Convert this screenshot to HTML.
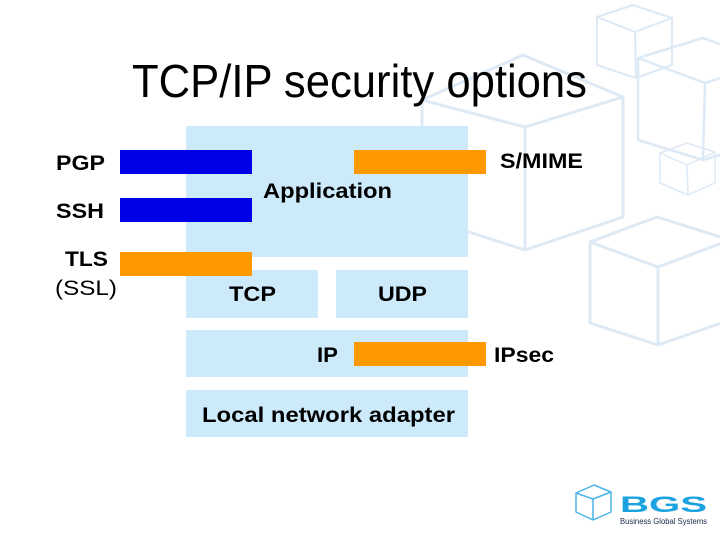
<!DOCTYPE html>
<html><head><meta charset="utf-8"><style>
html,body{margin:0;padding:0;background:#fff;}
svg{display:block;}
text{font-family:"Liberation Sans",Arial,sans-serif;}
</style></head><body>
<svg width="720" height="540" viewBox="0 0 720 540" xmlns="http://www.w3.org/2000/svg">
<rect width="720" height="540" fill="#ffffff"/>
<!-- background cubes -->
<g fill="none" stroke="#dde9f5" stroke-width="3" stroke-linejoin="round">
  <!-- big cube -->
  <path d="M422,100 L523,55 L623,97 L525,127 Z M422,100 L422,217 L525,250 L623,217 L623,97 M525,127 L525,250"/>
  <!-- bottom right cube -->
  <path d="M590,242 L657,217 L730,240 L658,267 Z M590,242 L590,323 L658,345 L730,320 M658,267 L658,345"/>
  <!-- top small cube -->
  <path d="M597,17 L633,5 L672,18 L635,32 Z M597,17 L597,65 L636,78 L672,65 L672,18 M635,32 L636,78" stroke-width="2"/>
  <!-- right middle cube -->
  <path d="M638,58 L703,38 L730,48 M638,58 L705,83 L730,75 M638,58 L638,140 L703,160 L730,152 M705,83 L703,160" stroke-width="2.5"/>
  <!-- small cube -->
  <path d="M660,153 L687,143 L715,152 L687,165 Z M660,153 L660,183 L688,195 L715,183 L715,152 M687,165 L688,195" stroke-width="1.5"/>
</g>

<!-- Title -->
<text x="132" y="97" font-size="46" fill="#000" textLength="455" lengthAdjust="spacingAndGlyphs">TCP/IP security options</text>

<!-- layer boxes -->
<g fill="#cceafa">
  <rect x="186" y="126" width="282" height="131"/>
  <rect x="186" y="270" width="132" height="48"/>
  <rect x="336" y="270" width="132" height="48"/>
  <rect x="186" y="330" width="282" height="47"/>
  <rect x="186" y="390" width="282" height="47"/>
</g>

<!-- bars -->
<rect x="120" y="150" width="132" height="24" fill="#0000e6"/>
<rect x="120" y="198" width="132" height="24" fill="#0000e6"/>
<rect x="120" y="252" width="132" height="24" fill="#ff9900"/>
<rect x="354" y="150" width="132" height="24" fill="#ff9900"/>
<rect x="354" y="342" width="132" height="24" fill="#ff9900"/>

<!-- labels -->
<g font-weight="bold" font-size="21" fill="#000">
  <text x="56" y="170" textLength="49" lengthAdjust="spacingAndGlyphs">PGP</text>
  <text x="56" y="218" textLength="48" lengthAdjust="spacingAndGlyphs">SSH</text>
  <text x="65" y="266" textLength="43" lengthAdjust="spacingAndGlyphs">TLS</text>
  <text x="263" y="198" textLength="129" lengthAdjust="spacingAndGlyphs">Application</text>
  <text x="229" y="301" textLength="47" lengthAdjust="spacingAndGlyphs">TCP</text>
  <text x="378" y="301" textLength="49" lengthAdjust="spacingAndGlyphs">UDP</text>
  <text x="317" y="362" textLength="21" lengthAdjust="spacingAndGlyphs">IP</text>
  <text x="202" y="422" textLength="253" lengthAdjust="spacingAndGlyphs">Local network adapter</text>
  <text x="494" y="362" textLength="60" lengthAdjust="spacingAndGlyphs">IPsec</text>
  <text x="500" y="168" textLength="83" lengthAdjust="spacingAndGlyphs">S/MIME</text>
</g>
<text x="55" y="295" font-size="21" fill="#000" textLength="62" lengthAdjust="spacingAndGlyphs">(SSL)</text>

<!-- BGS logo -->
<g fill="none" stroke="#4cb4e6" stroke-width="1.5" stroke-linejoin="round">
  <path d="M576,493 L594,485 L611,492 L593,499 Z M576,493 L576,512 L593,520 L611,512 L611,492 M593,499 L593,520"/>
</g>
<text x="620" y="512" font-size="22" font-weight="bold" fill="#1aa3e0" textLength="87" lengthAdjust="spacingAndGlyphs">BGS</text>
<text x="620" y="524" font-size="8" fill="#1a2a4a" textLength="87" lengthAdjust="spacingAndGlyphs">Business Global Systems</text>
</svg>
</body></html>
